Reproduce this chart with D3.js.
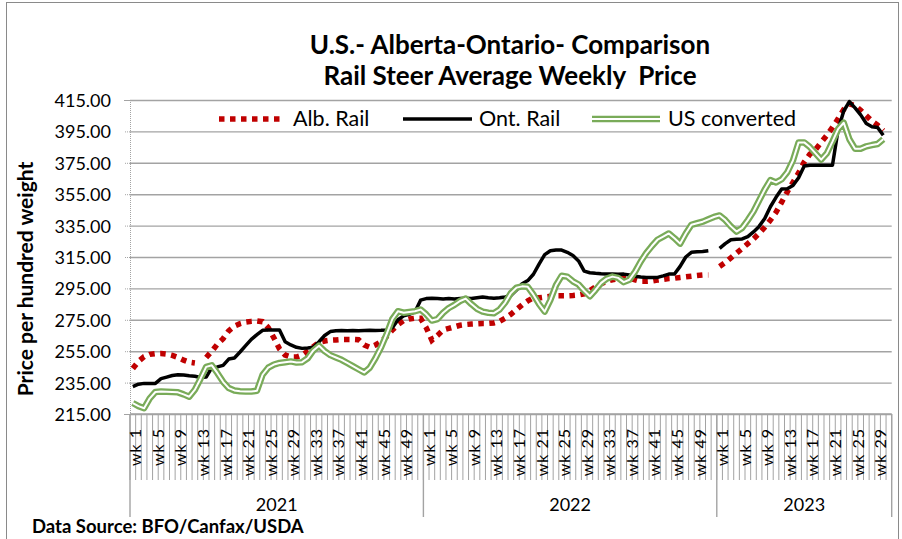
<!DOCTYPE html>
<html>
<head>
<meta charset="utf-8">
<script src="https://cdn.jsdelivr.net/npm/d3@7"></script>
<style>
  body { margin: 0; background: #fff; }
  svg { display: block; font-family: Lato, "Open Sans", sans-serif; }
</style>
</head>
<body>
<svg id="chart" width="902" height="539"></svg>
<script>
// categories: weeks per year on a two level axis
const years = ["2021", "2022", "2023"];
const weeksPerYear = [52, 52, 31];

// y axis ticks
const yTicks = [215, 235, 255, 275, 295, 315, 335, 355, 375, 395, 415];

// Alb. Rail ($/cwt), one value per week, null = no quote
const albRail = [
  // 2021
  244, 248.5, 251.5, 253, 253.5, 253.6, 253.2, 252.3, 251, 249.3,
  248, 247.5, null, 251, 255, 259.5, 263, 268, 271, 272.5,
  273.5, 274, 274.3, 273.8, 270, 263.5, 256.5, 252.5, 251.3, 251.3,
  252.5, 255, 257.9, 260.5, 261.5, 262, 262.2, 262.5, 262.5, 262.5,
  262.3, 259, 257.5, 259, 261, 264.5, 268.5, 272, 274.5, 275.5,
  276, 276,
  // 2022
  270, 262, 265, 268.5, 269.5, 270.5, 271.5, 272, 272.3, 272.5,
  272.7, 272.7, 273, 274, 276, 278.5, 281.5, 284.5, 287, 289,
  289, 289.5, 290, 290.3, 290.3, 290.3, 290.5, 290.8, 291.5, 293.5,
  296, 298, 299.5, 300.5, 301, 301.3, 301.4, 300.5, 299.5, 299.5,
  299.7, 300.3, 300.8, 301.3, 301.5, 302, 302.4, 302.8, 303.2, 303.5,
  303.5, null,
  // 2023
  309, 311.5, 314.5, 317.5, 320.5, 323.5, 326.5, 330, 334, 338.5,
  343.5, 350, 356.5, 362.5, 368.5, 375.5, 380.5, 383.5, 388, 392.5,
  397.5, 403, 409, 412.5, 411.5, 408.5, 405, 401.5, 399, 395.5,
  null
];

// Ont. Rail
const ontRail = [
  // 2021
  232.5, 234, 234.5, 234.5, 234.5, 237.5, 238.5, 239.5, 240, 239.8,
  239.3, 239, 238.3, 238.5, 244.5, 245, 246, 250, 250.7, 254.5,
  258.5, 262.5, 265.5, 268.3, 268.5, 268.5, 268.5, 261, 259, 257.5,
  256.8, 257, 257.5, 261, 265, 267.5, 268, 268.2, 268, 268.2,
  268, 268.2, 268.3, 268.2, 268.3, 268.5, 270, 275, 277.5, 278.5,
  280, 287.5,
  // 2022
  288.5, 288.7, 288.5, 288.3, 288.5, 288.3, 288.5, 288.7, 288.5, 289,
  289.5, 289, 288.8, 289, 289.5, 290.5, 294, 298, 300, 304,
  310.5, 316.5, 319, 319.4, 319.4, 318, 316, 312.5, 306, 305,
  304.6, 304.3, 304.1, 304.2, 304, 304.1, 303.5, 302.8, 302.2, 302,
  302, 302, 303, 304.1, 304.2, 309, 315, 318, 318.3, 318.5,
  319, null,
  // 2023
  320.5, 323.5, 326, 326.3, 326.5, 328, 331, 334.5, 339.5, 347,
  353, 358.3, 358.5, 360.5, 365.5, 373, 373.5, 373.5, 373.5, 373.5,
  373.5, 396, 408, 414, 410, 405.5, 400, 398, 397.5, 392.5,
  null
];

// US converted
const usConverted = [
  // 2021
  222, 220, 218.7, 225, 229, 229.3, 229.2, 229, 228.8, 227.5,
  226, 230.5, 237.5, 245, 246, 241, 235.5, 231.5, 230, 229.5,
  229.3, 229.3, 229.8, 240, 244.5, 246.5, 247.5, 248, 248.5, 247.8,
  248, 250.5, 255.5, 258.5, 255, 252.5, 251, 249.5, 247.5, 245.5,
  243.5, 241.5, 244.5, 250.5, 257.5, 266, 275.5, 280.5, 279.5, 280,
  280.5, 281.5,
  // 2022
  278.5, 274.5, 275.5, 279.5, 282.5, 284.5, 287, 288.5, 285, 282,
  280.2, 279.5, 279.2, 281.5, 286, 292, 295.5, 296.3, 296, 291,
  285, 280.2, 287.5, 297, 303, 302.5, 299.5, 297.5, 293.5, 290,
  294, 298.5, 301.2, 302.5, 301.7, 299, 300.5, 305.5, 312, 317.5,
  322, 326, 328, 330, 327, 323.5, 330, 335.5, 336.5, 337.5,
  339, 340.5,
  // 2023
  341.5, 338.5, 334.5, 331.2, 333.5, 338.5, 344, 351, 358, 364,
  362.5, 364.5, 369, 376.5, 388, 388, 385, 381, 377, 381,
  388.5, 396.5, 400.5, 390, 384, 384, 385.5, 386.3, 387, 390,
  null
];

const RED = "#c00000", GREEN = "#79ab59", GRID = "#a3a3a3";

// flat category list (year + week)
const categories = [];
years.forEach((yr, k) => {
  for (let w = 1; w <= weeksPerYear[k]; w++) categories.push({ year: yr, week: w });
});

const plot = { left: 130, right: 891.7, top: 100, bottom: 414 };
const svg = d3.select("#chart");

const x = d3.scaleBand()
  .domain(d3.range(categories.length))
  .range([plot.left, plot.right]);
const y = d3.scaleLinear()
  .domain([215, 415])
  .range([plot.bottom, plot.top]);
const cx = i => x(i) + x.bandwidth() / 2;

// chart frame
svg.append("rect")
  .attr("x", 6.5).attr("y", 2.5)
  .attr("width", 892).attr("height", 560)
  .attr("fill", "none").attr("stroke", "#8a8a8a").attr("stroke-width", 1);

// gridlines
svg.append("g")
  .attr("transform", `translate(${plot.left},0)`)
  .call(d3.axisLeft(y).tickValues(yTicks).tickSize(-(plot.right - plot.left)).tickFormat(""))
  .call(g => g.select(".domain").remove())
  .call(g => g.selectAll("line").attr("stroke", GRID).attr("stroke-width", 1.4));

// y axis (dotted) + labels
svg.append("g")
  .attr("transform", `translate(${plot.left},0)`)
  .call(d3.axisLeft(y).tickValues(yTicks).tickSize(6).tickPadding(13).tickFormat(d3.format(".2f")))
  .call(g => g.select(".domain").attr("stroke", GRID).attr("stroke-dasharray", "1,1"))
  .call(g => g.selectAll(".tick line").attr("stroke", GRID).attr("stroke-dasharray", "1,1"))
  .call(g => g.selectAll("text")
    .attr("font-family", "Lato").attr("font-size", 18).attr("fill", "#000").attr("dy", "0.36em"));

// x axis: baseline, category dividers, year dividers
const xa = svg.append("g");
xa.append("line")
  .attr("x1", plot.left).attr("x2", plot.right)
  .attr("y1", plot.bottom).attr("y2", plot.bottom)
  .attr("stroke", GRID).attr("stroke-width", 1.4);

xa.selectAll("line.cat")
  .data(d3.range(categories.length + 1))
  .join("line")
  .attr("class", "cat")
  .attr("x1", i => i < categories.length ? x(i) : plot.right)
  .attr("x2", i => i < categories.length ? x(i) : plot.right)
  .attr("y1", plot.bottom).attr("y2", 480)
  .attr("stroke", GRID).attr("stroke-width", 1);

let start = 0;
const yearBounds = years.map((yr, k) => {
  const b = { year: yr, from: start, to: start + weeksPerYear[k] };
  start += weeksPerYear[k];
  return b;
});
const edge = i => i < categories.length ? x(i) : plot.right;

xa.selectAll("line.year")
  .data([0, ...yearBounds.map(b => b.to)])
  .join("line")
  .attr("class", "year")
  .attr("x1", edge).attr("x2", edge)
  .attr("y1", plot.bottom).attr("y2", 517)
  .attr("stroke", GRID).attr("stroke-width", 1.4);

xa.selectAll("text.year")
  .data(yearBounds)
  .join("text")
  .attr("class", "year")
  .attr("x", b => (edge(b.from) + edge(b.to)) / 2)
  .attr("y", 511)
  .attr("text-anchor", "middle")
  .attr("font-size", 18)
  .text(b => b.year);

xa.selectAll("text.wk")
  .data(categories.map((c, i) => ({ ...c, i })).filter(c => c.week % 4 === 1))
  .join("text")
  .attr("class", "wk")
  .attr("transform", c => `translate(${cx(c.i) + 8.5},428) rotate(-90)`)
  .attr("text-anchor", "end")
  .attr("font-size", 16)
  .attr("letter-spacing", 1)
  .text(c => "wk " + c.week);

// series
const line = d3.line()
  .defined(d => d.v != null)
  .x(d => cx(d.i))
  .y(d => y(d.v));
const pts = arr => arr.map((v, i) => ({ i, v }));

const lines = svg.append("g").attr("fill", "none");
lines.append("path")
  .attr("d", line(pts(albRail)))
  .attr("stroke", RED).attr("stroke-width", 5.5)
  .attr("stroke-dasharray", "5.5,5.5");
lines.append("path")
  .attr("d", line(pts(ontRail)))
  .attr("stroke", "#000").attr("stroke-width", 3.5)
  .attr("stroke-linejoin", "round");
lines.append("path")
  .attr("d", line(pts(usConverted)))
  .attr("stroke", GREEN).attr("stroke-width", 6.5)
  .attr("stroke-linejoin", "round");
lines.append("path")
  .attr("d", line(pts(usConverted)))
  .attr("stroke", "#fff").attr("stroke-width", 2)
  .attr("stroke-linejoin", "round");

// legend
const legend = svg.append("g");
const legendItems = [
  { name: "Alb. Rail", x0: 219, x1: 284, tx: 293 },
  { name: "Ont. Rail", x0: 403, x1: 472, tx: 479 },
  { name: "US converted", x0: 592, x1: 660, tx: 668 }
];
legendItems.forEach((it, k) => {
  const g = legend.append("g");
  const seg = g.append("line")
    .attr("x1", it.x0).attr("x2", it.x1)
    .attr("y1", 119).attr("y2", 119);
  if (k === 0) {
    seg.attr("stroke", RED).attr("stroke-width", 5.5).attr("stroke-dasharray", "5.5,5.5");
  } else if (k === 1) {
    seg.attr("stroke", "#000").attr("stroke-width", 3.5);
  } else {
    seg.attr("stroke", GREEN).attr("stroke-width", 6.5);
    g.append("line")
      .attr("x1", it.x0).attr("x2", it.x1)
      .attr("y1", 119).attr("y2", 119)
      .attr("stroke", "#fff").attr("stroke-width", 2);
  }
  g.append("text")
    .attr("x", it.tx).attr("y", 126)
    .attr("font-size", 21.5)
    .text(it.name);
});

// titles
svg.append("text")
  .attr("x", 510).attr("y", 54)
  .attr("text-anchor", "middle")
  .attr("font-size", 26).attr("font-weight", "bold")
  .text("U.S.- Alberta-Ontario- Comparison");
svg.append("text")
  .attr("x", 510).attr("y", 85)
  .attr("text-anchor", "middle")
  .attr("font-size", 26).attr("font-weight", "bold")
  .style("white-space", "pre")
  .text("Rail Steer Average Weekly  Price");

svg.append("text")
  .attr("transform", "translate(33,279) rotate(-90)")
  .attr("text-anchor", "middle")
  .attr("font-size", 21).attr("font-weight", "bold")
  .text("Price per hundred weight");

svg.append("text")
  .attr("x", 32).attr("y", 533)
  .attr("font-size", 18.5).attr("font-weight", "bold")
  .text("Data Source: BFO/Canfax/USDA");
</script>
</body>
</html>
